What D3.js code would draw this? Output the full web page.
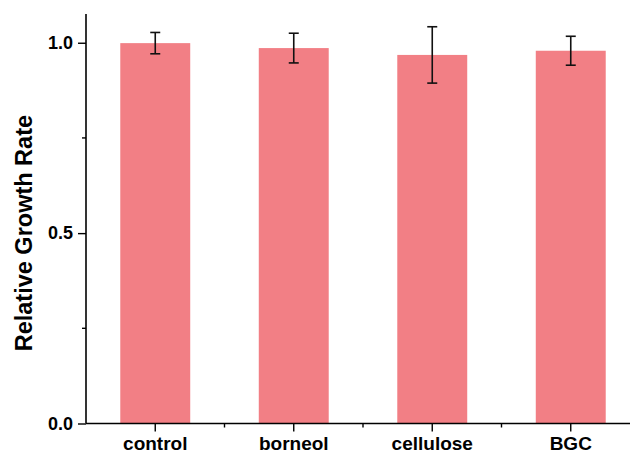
<!DOCTYPE html>
<html>
<head>
<meta charset="utf-8">
<script src="https://cdn.jsdelivr.net/npm/d3@7"></script>
<style>
  body { margin: 0; background: #fff; }
  text { font-family: "Liberation Sans", Arial, sans-serif; font-weight: bold; fill: #000; }
</style>
</head>
<body>
<div id="chart"></div>
<script>
// data
const groups = ["control", "borneol", "cellulose", "BGC"];
const means = [0.999, 0.986, 0.968, 0.979];
const errs = [0.028, 0.039, 0.074, 0.038];
const yTicks = [0, 0.5, 1.0];
const yMinorTicks = [0.25, 0.75];

const width = 630, height = 454;
const margin = {top: 14, right: -10, bottom: 30.5, left: 86};

const svg = d3.select("#chart").append("svg")
  .attr("width", width)
  .attr("height", height);

const x = d3.scaleBand()
  .domain(groups)
  .range([margin.left, width - margin.right])
  .paddingInner(0)
  .paddingOuter(0);

const y = d3.scaleLinear()
  .domain([0, 1.0755])
  .range([height - margin.bottom, margin.top]);

const barW = x.bandwidth() * 0.505;

// bars
svg.append("g")
  .selectAll("rect")
  .data(groups)
  .join("rect")
  .attr("x", d => x(d) + x.bandwidth() / 2 - barW / 2)
  .attr("y", (d, i) => y(means[i]))
  .attr("width", barW)
  .attr("height", (d, i) => y(0) - y(means[i]))
  .attr("fill", "#f27f85");

// error bars
const eb = svg.append("g")
  .attr("stroke", "#111")
  .attr("stroke-width", 1.6);

groups.forEach((g, i) => {
  const cx = x(g) + x.bandwidth() / 2;
  const top = y(means[i] + errs[i]), bot = y(means[i] - errs[i]);
  eb.append("line").attr("x1", cx).attr("x2", cx).attr("y1", top).attr("y2", bot);
  eb.append("line").attr("x1", cx - 5).attr("x2", cx + 5).attr("y1", top).attr("y2", top);
  eb.append("line").attr("x1", cx - 5).attr("x2", cx + 5).attr("y1", bot).attr("y2", bot);
});

// y axis
const yAxis = svg.append("g")
  .attr("transform", `translate(${margin.left},0)`)
  .call(d3.axisLeft(y).tickValues(yTicks).tickFormat(d3.format(".1f")).tickSize(8).tickPadding(5));
yAxis.select(".domain").attr("d", `M0,${y(0)}V${margin.top}`).attr("stroke-width", 1.6);
yAxis.selectAll(".tick line").attr("stroke-width", 1.4);
yAxis.selectAll(".tick text").style("font-size", "18px");

svg.append("g")
  .selectAll("line")
  .data(yMinorTicks)
  .join("line")
  .attr("x1", margin.left - 4)
  .attr("x2", margin.left)
  .attr("y1", d => y(d))
  .attr("y2", d => y(d))
  .attr("stroke", "#000")
  .attr("stroke-width", 1.4);

// x axis
const xAxis = svg.append("g")
  .attr("transform", `translate(0,${y(0)})`)
  .call(d3.axisBottom(x).tickSize(8).tickPadding(5));
xAxis.select(".domain").attr("d", `M${margin.left},0H${width}`).attr("stroke-width", 1.6);
xAxis.selectAll(".tick line").attr("stroke-width", 1.4);
xAxis.selectAll(".tick text").style("font-size", "19px");

// minor ticks between categories
svg.append("g")
  .selectAll("line")
  .data(groups.slice(1))
  .join("line")
  .attr("x1", d => x(d))
  .attr("x2", d => x(d))
  .attr("y1", y(0))
  .attr("y2", y(0) + 4)
  .attr("stroke", "#000")
  .attr("stroke-width", 1.4);

// y title
svg.append("text")
  .attr("transform", `translate(32,${y(0.5)}) rotate(-90)`)
  .attr("text-anchor", "middle")
  .style("font-size", "23.5px")
  .text("Relative Growth Rate");
</script>
</body>
</html>
